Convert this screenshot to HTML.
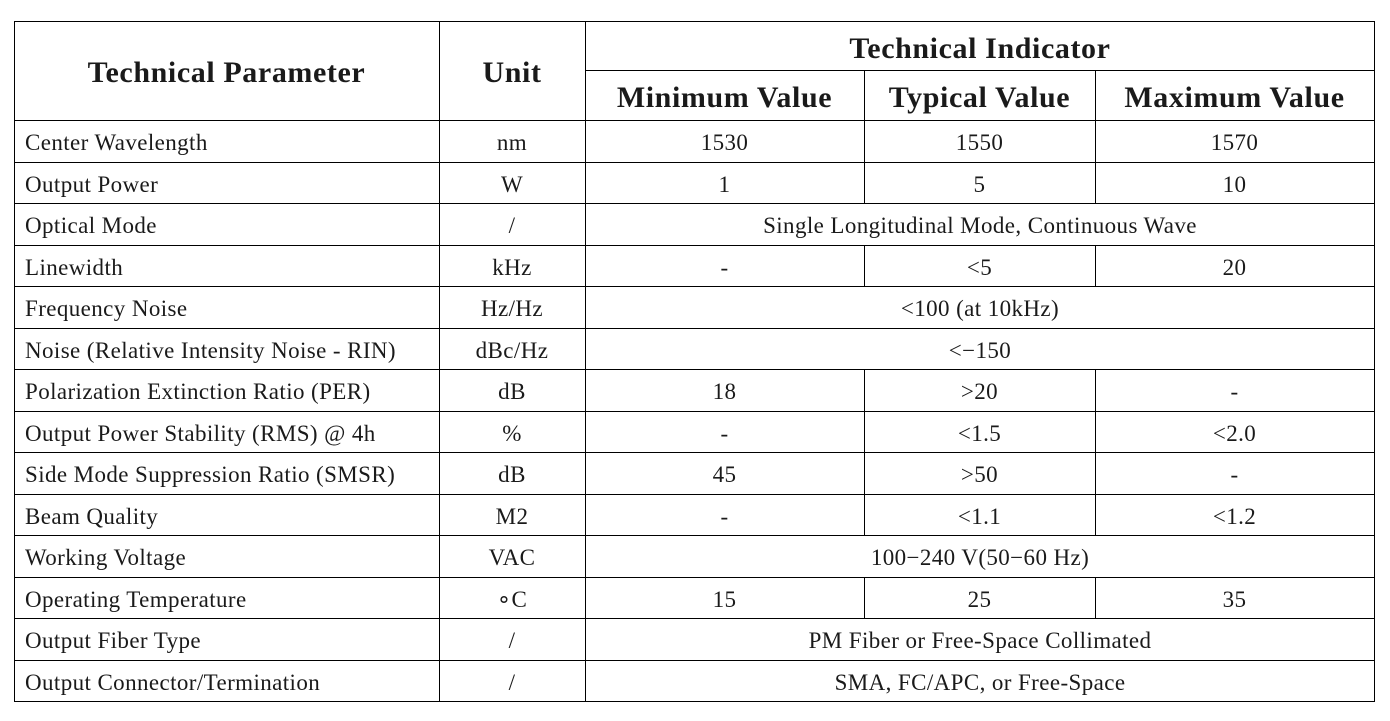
<!DOCTYPE html>
<html><head><meta charset="utf-8"><style>
body{margin:0;width:1390px;height:721px;background:#fff;position:relative;overflow:hidden;font-family:"Liberation Serif",serif;color:#1a1a1a}
.h{position:absolute;height:1px;background:#000}
.v{position:absolute;width:1px;background:#000}
.t{position:absolute;font-size:23px;line-height:41px;white-space:nowrap;letter-spacing:0.4px}
.c{text-align:center}
.b{font-weight:bold;font-size:30px;letter-spacing:0.6px}
</style></head><body>
<div class="h" style="left:14px;top:21px;width:1361px"></div>
<div class="h" style="left:585px;top:70px;width:790px"></div>
<div class="h" style="left:14px;top:120px;width:1361px"></div>
<div class="v" style="left:14px;top:21px;height:681px"></div>
<div class="v" style="left:439px;top:21px;height:681px"></div>
<div class="v" style="left:585px;top:21px;height:681px"></div>
<div class="v" style="left:1374px;top:21px;height:681px"></div>
<div id="rows"></div>
<div class="t b c" style="left:14px;width:425px;top:52px">Technical Parameter</div>
<div class="t b c" style="left:439px;width:146px;top:52px">Unit</div>
<div class="t b c" style="left:585px;width:790px;top:28px">Technical Indicator</div>
<div class="t b c" style="left:585px;width:279px;top:77px">Minimum Value</div>
<div class="t b c" style="left:864px;width:231px;top:77px">Typical Value</div>
<div class="t b c" style="left:1095px;width:279px;top:77px">Maximum Value</div>
<script>
var d=[["Center Wavelength","nm","1530","1550","1570"],["Output Power","W","1","5","10"],["Optical Mode","/","Single Longitudinal Mode, Continuous Wave"],["Linewidth","kHz","-","<5","20"],["Frequency Noise","Hz/Hz","<100 (at 10kHz)"],["Noise (Relative Intensity Noise - RIN)","dBc/Hz","<−150"],["Polarization Extinction Ratio (PER)","dB","18",">20","-"],["Output Power Stability (RMS) @ 4h","%","-","<1.5","<2.0"],["Side Mode Suppression Ratio (SMSR)","dB","45",">50","-"],["Beam Quality","M2","-","<1.1","<1.2"],["Working Voltage","VAC","100−240 V(50−60 Hz)"],["Operating Temperature","∘C","15","25","35"],["Output Fiber Type","/","PM Fiber or Free-Space Collimated"],["Output Connector/Termination","/","SMA, FC/APC, or Free-Space"]];
var h="";
function esc(s){return s.replace(/&/g,"&amp;").replace(/</g,"&lt;").replace(/>/g,"&gt;")}
d.forEach(function(r,i){var y=120+i*41.5;var ty=Math.round(y+2);
h+='<div class="h" style="left:14px;top:'+Math.round(y+41.5)+'px;width:1361px"></div>';
h+='<div class="t" style="left:25px;top:'+ty+'px">'+esc(r[0])+'</div>';
h+='<div class="t c" style="left:439px;width:146px;top:'+ty+'px">'+esc(r[1])+'</div>';
if(r.length==3){h+='<div class="t c" style="left:585px;width:790px;top:'+ty+'px">'+esc(r[2])+'</div>';}
else{h+='<div class="v" style="left:864px;top:'+Math.round(y)+'px;height:42px"></div><div class="v" style="left:1095px;top:'+Math.round(y)+'px;height:42px"></div>';
h+='<div class="t c" style="left:585px;width:279px;top:'+ty+'px">'+esc(r[2])+'</div>';
h+='<div class="t c" style="left:864px;width:231px;top:'+ty+'px">'+esc(r[3])+'</div>';
h+='<div class="t c" style="left:1095px;width:279px;top:'+ty+'px">'+esc(r[4])+'</div>';}
});
document.getElementById("rows").innerHTML=h;
</script>
<div class="v" style="left:864px;top:70px;height:50px"></div>
<div class="v" style="left:1095px;top:70px;height:50px"></div>
</body></html>
